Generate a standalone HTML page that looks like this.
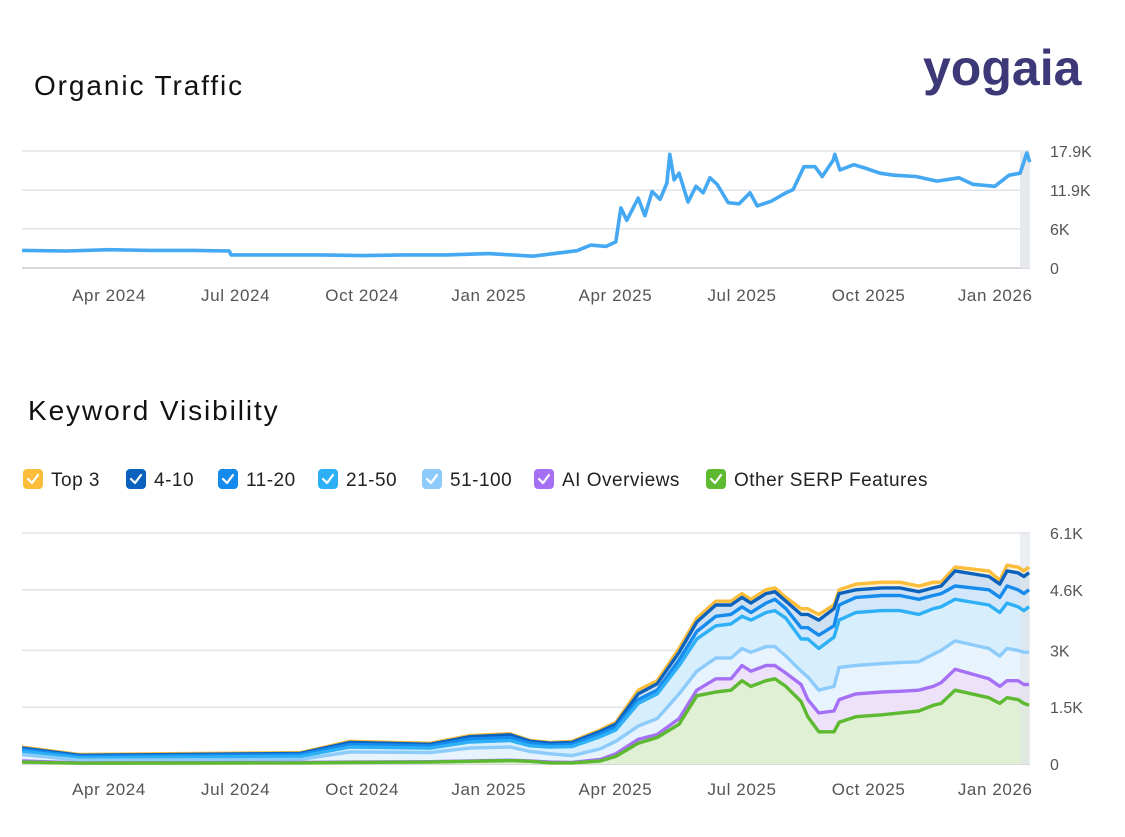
<!DOCTYPE html>
<html><head><meta charset="utf-8">
<style>
body{margin:0;background:#fff;width:1125px;height:837px;overflow:hidden;font-family:"Liberation Sans",sans-serif}
svg{position:absolute;left:0;top:0}
</style></head>
<body>
<svg id="c" width="1125" height="837" viewBox="0 0 1125 837">
<text x="34" y="95" font-size="28" letter-spacing="1.9" fill="#111">Organic Traffic</text>
<text x="923" y="85" font-size="50" font-weight="bold" fill="#3d3878">yogaia</text>
<text x="28" y="420" font-size="28" letter-spacing="1.9" fill="#111">Keyword Visibility</text>
<g id="legend"></g>
<g id="top"></g>
<g id="bot"></g>
</svg>
<script>
// month index: 0 = Jan 2024 (fractional months)
const xTickLabels=["Apr 2024","Jul 2024","Oct 2024","Jan 2025","Apr 2025","Jul 2025","Oct 2025","Jan 2026"];
const xTickMonths=[3,6,9,12,15,18,21,24];
const trafficMonths=[0.94,2,3,4,5,5.85,5.89,7,8,9,10,11,12,13.05,14.09,14.42,14.78,15.01,15.13,15.27,15.54,15.70,15.87,16.06,16.22,16.29,16.39,16.51,16.72,16.91,17.08,17.24,17.41,17.67,17.93,18.19,18.36,18.69,19.04,19.21,19.47,19.73,19.90,20.16,20.20,20.32,20.65,20.91,21.27,21.60,22.12,22.62,23.14,23.47,23.99,24.33,24.59,24.75,24.82];
const trafficValues=[2.7,2.6,2.8,2.7,2.7,2.6,2.0,2.0,2.0,1.9,2.0,2.0,2.2,1.8,2.65,3.5,3.3,4.0,9.2,7.3,10.7,8.0,11.7,10.5,13.0,17.4,13.5,14.5,10.1,12.5,11.5,13.8,12.8,10.0,9.8,11.5,9.5,10.2,11.5,12.0,15.5,15.5,14.0,16.5,17.4,15.0,15.8,15.3,14.5,14.2,14.0,13.3,13.8,12.8,12.5,14.2,14.5,17.6,16.2];
const trafficTicks=[0,6,11.9,17.9];
const trafficTickLabels=["0","6K","11.9K","17.9K"];

const visMonths=[0.94,2.31,7.53,8.71,10.61,11.55,12.50,12.98,13.45,13.97,14.64,15.01,15.54,15.99,16.51,16.93,17.38,17.74,18.0,18.21,18.57,18.78,19.04,19.40,19.56,19.82,20.18,20.30,20.70,21.32,21.74,22.19,22.53,22.72,23.05,23.85,24.11,24.28,24.54,24.68,24.80];
// cumulative (stacked) totals in K
const top3Total=[.45,.25,.3,.6,.55,.75,.8,.62,.57,.6,.9,1.1,1.95,2.2,3.05,3.85,4.3,4.3,4.5,4.35,4.6,4.65,4.4,4.1,4.1,3.95,4.2,4.6,4.75,4.8,4.8,4.7,4.8,4.8,5.2,5.1,4.85,5.25,5.2,5.1,5.2];
const pos4to10Total=[.42,.23,.28,.57,.52,.72,.77,.6,.55,.57,.86,1.05,1.85,2.12,2.95,3.75,4.2,4.2,4.4,4.25,4.5,4.55,4.3,3.95,3.95,3.8,4.1,4.5,4.6,4.65,4.65,4.55,4.65,4.7,5.1,4.95,4.75,5.1,5.05,4.95,5.05];
const pos11to20Total=[.38,.2,.25,.52,.48,.66,.7,.55,.5,.52,.8,.98,1.7,1.95,2.75,3.5,3.9,3.95,4.15,4.0,4.25,4.35,4.1,3.6,3.6,3.4,3.65,4.2,4.4,4.45,4.45,4.35,4.45,4.5,4.7,4.6,4.4,4.7,4.6,4.5,4.6];
const pos21to50Total=[.33,.16,.2,.45,.42,.58,.62,.48,.45,.46,.72,.9,1.6,1.85,2.6,3.3,3.65,3.7,3.9,3.8,4.0,4.05,3.85,3.3,3.3,3.05,3.35,3.8,4.0,4.05,4.05,3.95,4.1,4.15,4.35,4.2,4.0,4.25,4.15,4.05,4.15];
const pos51to100Total=[.25,.1,.12,.32,.3,.42,.45,.33,.27,.22,.4,.6,1.0,1.2,1.85,2.45,2.8,2.8,3.05,2.95,3.1,3.1,2.85,2.45,2.3,1.95,2.05,2.55,2.6,2.65,2.68,2.7,2.9,3.0,3.25,3.05,2.85,3.05,3.0,2.95,2.95];
const aiOverviewsTotal=[.08,.03,.04,.05,.06,.08,.1,.08,.05,.04,.12,.27,.65,.78,1.2,1.95,2.25,2.25,2.6,2.45,2.6,2.6,2.4,2.1,1.7,1.35,1.4,1.7,1.85,1.9,1.92,1.95,2.05,2.15,2.5,2.25,2.05,2.2,2.2,2.1,2.1];
const otherSerpTotal=[.05,.02,.03,.04,.05,.07,.09,.07,.03,.03,.08,.2,.55,.7,1.05,1.8,1.9,1.95,2.2,2.05,2.2,2.25,2.05,1.65,1.25,.85,.85,1.1,1.25,1.3,1.35,1.4,1.55,1.6,1.95,1.75,1.6,1.75,1.7,1.6,1.55];
const visTicks=[0,1.5,3,4.6,6.1];
const visTickLabels=["0","1.5K","3K","4.6K","6.1K"];
const legendLabels=["Top 3","4-10","11-20","21-50","51-100","AI Overviews","Other SERP Features"];

const NS="http://www.w3.org/2000/svg";
function mk(tag,attrs,parent){const e=document.createElementNS(NS,tag);for(const k in attrs)e.setAttribute(k,attrs[k]);parent.appendChild(e);return e;}
const X0=22,X1=1030;
const xScale=m=>109+(m-3)*42.2;
const yTop=v=>268-v/17.9*117;
const yBot=v=>764-v/6.1*231;
const topG=document.getElementById('top'),botG=document.getElementById('bot'),legG=document.getElementById('legend');

function axes(g,ticks,labels,ys,labelY,prefix){
  ticks.forEach((t,i)=>{
    const l=mk('line',{x1:X0,x2:X1,y1:ys(t),y2:ys(t),stroke:i==0?'#c9ccd4':'#e1e3ea','stroke-width':1.5},g);
    
    
    const tx=mk('text',{x:1050,y:ys(t)+6,'font-size':16,fill:'#555'},g);tx.textContent=labels[i];
    
    
  });
  xTickMonths.forEach((m,i)=>{
    const tx=mk('text',{x:xScale(m),y:labelY,'font-size':17,'letter-spacing':0.6,fill:'#555','text-anchor':'middle'},g);tx.textContent=xTickLabels[i];
    
    
  });
}
// top chart
axes(topG,trafficTicks,trafficTickLabels,yTop,301,'traffic');
const tb=mk('rect',{x:1020,y:151,width:10,height:117,fill:'#e6eaec'},topG);


const tp=mk('path',{d:trafficMonths.map((m,i)=>(i?'L':'M')+xScale(m).toFixed(1)+','+yTop(trafficValues[i]).toFixed(1)).join(''),fill:'none',stroke:'#45a8f2','stroke-width':3.6,'stroke-linejoin':'round'},topG);



// bottom chart
axes(botG,visTicks,visTickLabels,yBot,795,'visibility');
const series=[
 {d:top3Total,line:'#fbbd3a',fill:'#fdf0d2',name:'top-3'},
 {d:pos4to10Total,line:'#0b62bd',fill:'#cfe0f3',name:'4-10'},
 {d:pos11to20Total,line:'#168bee',fill:'#d2e8fa',name:'11-20'},
 {d:pos21to50Total,line:'#2db0f6',fill:'#d7eefc',name:'21-50'},
 {d:pos51to100Total,line:'#8dcbfb',fill:'#e8f4fd',name:'51-100'},
 {d:aiOverviewsTotal,line:'#a670f4',fill:'#eee2fb',name:'ai-overviews'},
 {d:otherSerpTotal,line:'#5db92f',fill:'#dff0d5',name:'other-serp-features'}];
const pts=arr=>visMonths.map((m,i)=>xScale(m).toFixed(1)+','+yBot(arr[i]).toFixed(1));
series.forEach((s,k)=>{
  const below=k<series.length-1?series[k+1].d:null;
  let d='M'+pts(s.d).join('L');
  if(below){d+='L'+pts(below).reverse().join('L')+'Z';}
  else{d+='L'+xScale(visMonths[visMonths.length-1])+','+yBot(0)+'L'+xScale(visMonths[0])+','+yBot(0)+'Z';}
  const a=mk('path',{d:d,fill:s.fill},botG);
  
  
});
const bb=mk('rect',{x:1020,y:533,width:10,height:231,fill:'#dfe5e8',opacity:0.6},botG);


series.forEach(s=>{
  const l=mk('path',{d:'M'+pts(s.d).join('L'),fill:'none',stroke:s.line,'stroke-width':3.4,'stroke-linejoin':'round'},botG);
  
  
});
// legend
const legX=[23,126,218,318,422,534,706];
series.forEach((s,i)=>{
  const g=mk('g',{},legG);
  
  
  mk('rect',{x:legX[i],y:469,width:20,height:20,rx:4,fill:s.line},g);
  mk('path',{d:`M${legX[i]+5},${479}l4,4l6,-8`,fill:'none',stroke:'#fff','stroke-width':2.2,'stroke-linecap':'round','stroke-linejoin':'round'},g);
  const t=mk('text',{x:legX[i]+28,y:486,'font-size':19,'letter-spacing':0.5,fill:'#222'},g);t.textContent=legendLabels[i];
});
</script>
</body></html>
